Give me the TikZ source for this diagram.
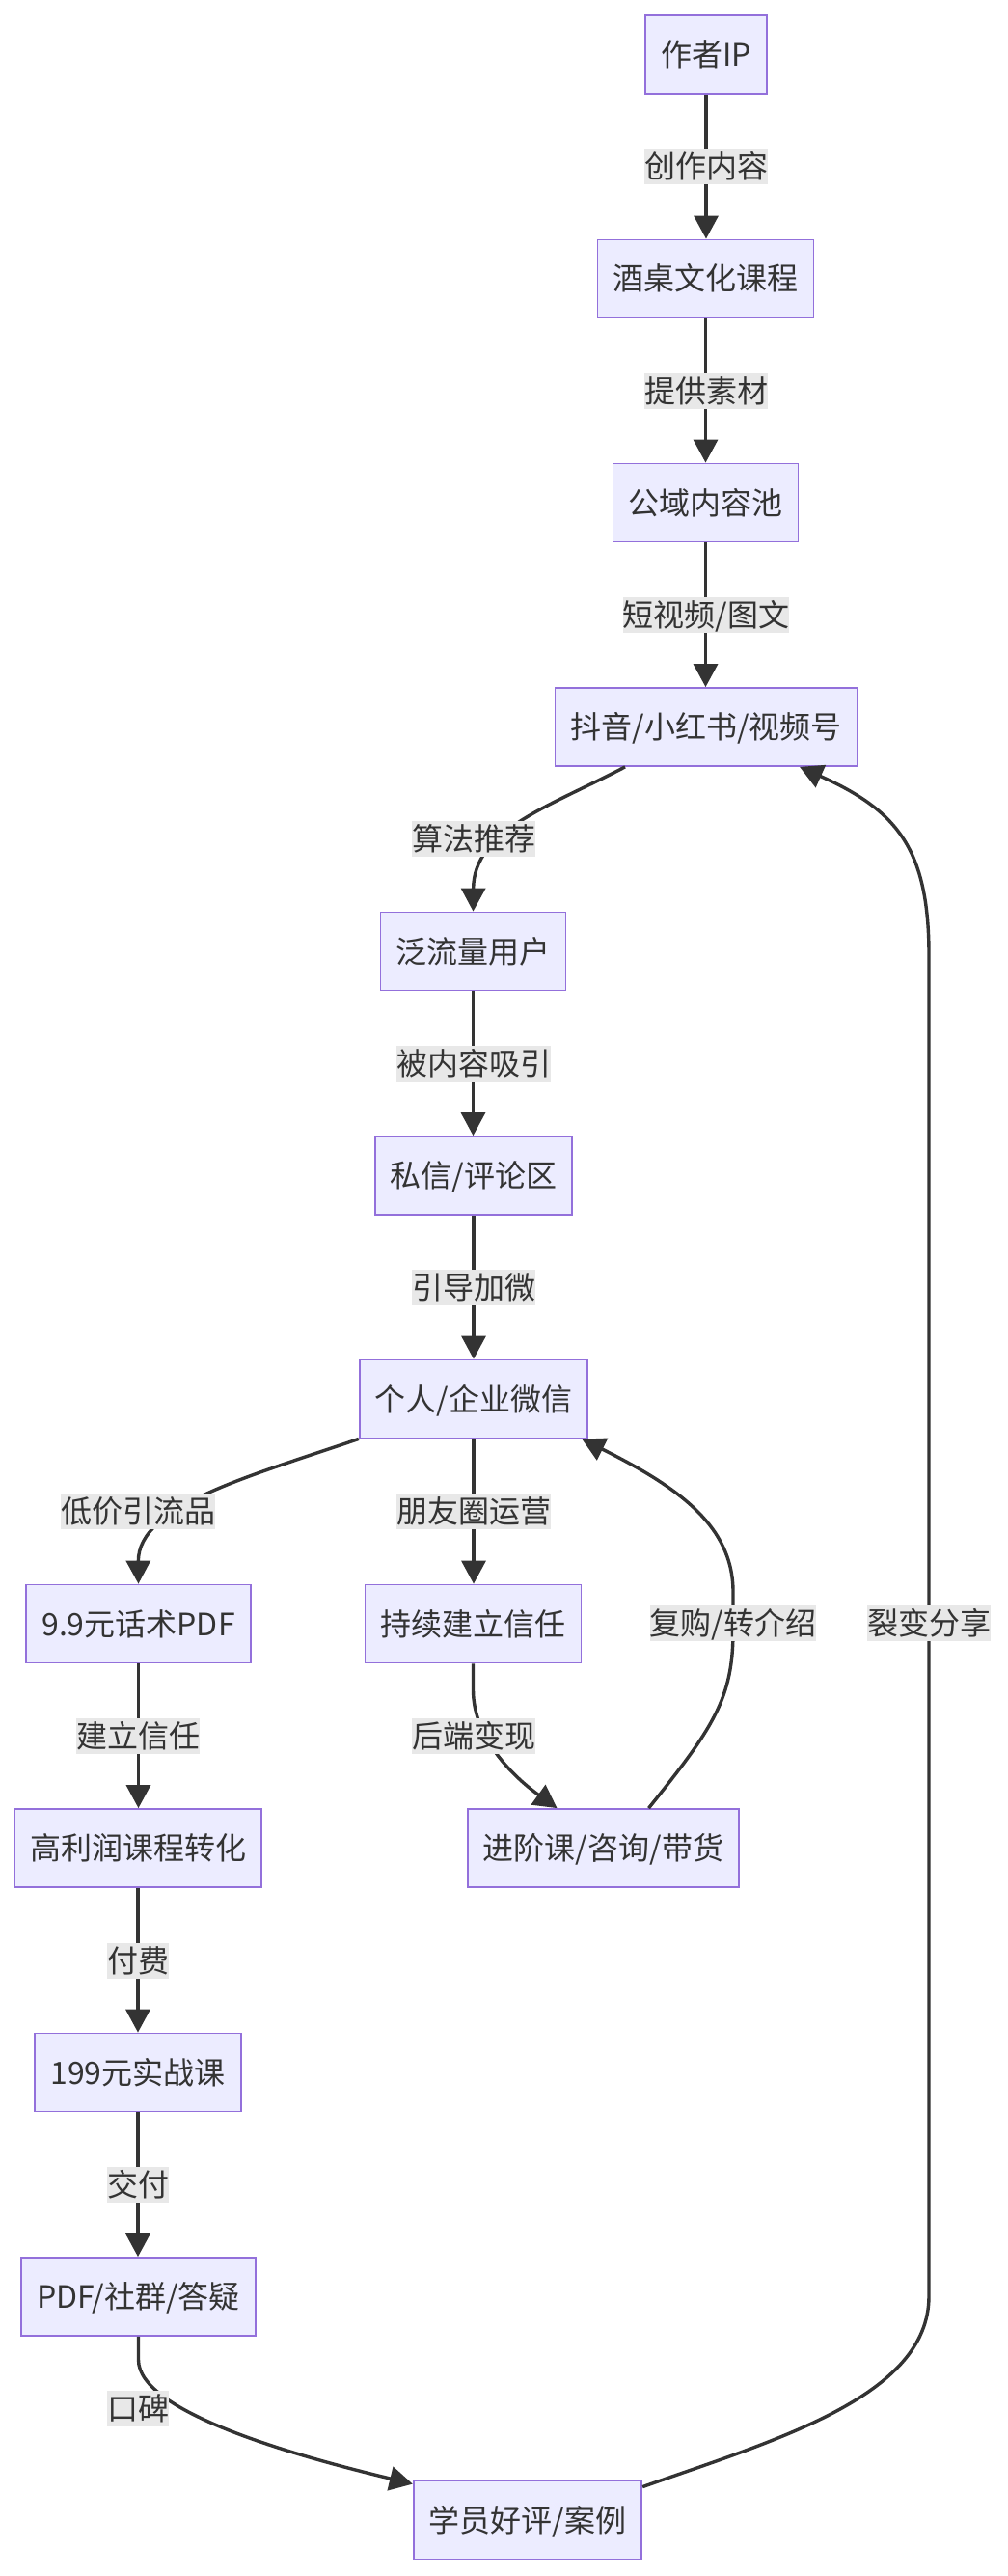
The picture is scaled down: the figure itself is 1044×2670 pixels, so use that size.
\documentclass[tikz,border=0pt]{standalone}
\usepackage{fontspec}
\setmainfont{Noto Sans CJK SC}
\usetikzlibrary{arrows.meta}
\definecolor{nodefill}{HTML}{ECECFF}
\definecolor{nodeline}{HTML}{9370DB}
\definecolor{ink}{HTML}{333333}
\definecolor{labelbg}{HTML}{E8E8E8}
\begin{document}
\begin{tikzpicture}[x=1pt,y=-1pt,
  box/.style={draw=nodeline, fill=nodefill, line width=1.8pt, text=ink,
    font=\fontsize{32}{38}\selectfont, minimum height=81pt,
    inner xsep=16pt, inner ysep=0pt, text height=27pt, text depth=3pt},
  lbl/.style={fill=labelbg, text=ink, font=\fontsize{32}{38}\selectfont,
    inner xsep=0pt, inner ysep=0pt, minimum height=37pt,
    text height=27pt, text depth=3pt},
  flow/.style={draw=ink, line width=3.4pt, -{Triangle[length=24pt,width=25pt]}}
]
\fill[white] (0,0) rectangle (1044,2670);
\useasboundingbox (0,0) rectangle (1044,2670);

% nodes
\node[box] (n1) at (732,56.5) {作者IP};
\node[box] (n2) at (731.5,289) {酒桌文化课程};
\node[box] (n3) at (731.5,521) {公域内容池};
\node[box] (n4) at (732,753.5) {抖音/小红书/视频号};
\node[box] (n5) at (490.5,986) {泛流量用户};
\node[box] (n6) at (491,1218.5) {私信/评论区};
\node[box] (n7) at (491,1450) {个人/企业微信};
\node[box] (n8) at (143.5,1683) {9.9元话术PDF};
\node[box] (n9) at (490.5,1683) {持续建立信任};
\node[box] (n10) at (143,1915.5) {高利润课程转化};
\node[box] (n11) at (625.5,1915.5) {进阶课/咨询/带货};
\node[box] (n12) at (143,2148) {199元实战课};
\node[box] (n13) at (143.5,2380.5) {PDF/社群/答疑};
\node[box] (n14) at (547,2612) {学员好评/案例};

% connectors
\draw[flow] (n1.south) -- (n1.south |- n2.north);
\draw[flow] (n2.south) -- (n2.south |- n3.north);
\draw[flow] (n3.south) -- (n3.south |- n4.north);
\draw[flow] ([xshift=-84pt]n4.south) .. controls (570,836) and (491,860) .. (n5.north);
\draw[flow] (n5.south) -- (n5.south |- n6.north);
\draw[flow] (n6.south) -- (n6.south |- n7.north);
\draw[flow] (n7.south west) .. controls (260,1530) and (143,1560) .. (n8.north);
\draw[flow] (n7.south) -- (n7.south |- n9.north);
\draw[flow] (n8.south) -- (n8.south |- n10.north);
\draw[flow] (n9.south) -- ++(0,27) .. controls (490.5,1800) and (530,1840) .. ([xshift=-48pt]n11.north);
\draw[flow] ([xshift=47pt]n11.north) .. controls (740,1790) and (760,1760) .. (760,1690)
  -- (760,1650) .. controls (760,1580) and (700,1540) .. ([xshift=-7pt]n7.south east);
\draw[flow] (n10.south) -- (n10.south |- n12.north);
\draw[flow] (n12.south) -- (n12.south |- n13.north);
\draw[flow] (n13.south) -- ++(0,24) .. controls (143.5,2500) and (305,2545) .. ([yshift=-4pt]n14.north west);
\draw[flow] ([yshift=-7pt]n14.north east) .. controls (800,2530) and (963,2485) .. (963,2380)
  -- (963,990) .. controls (963,880) and (930,840) .. ([xshift=97pt]n4.south);

% edge labels
\node[lbl] (l1) at (732,172.5) {创作内容};
\node[lbl] (l2) at (732,405) {提供素材};
\node[lbl] (l3) at (732,637) {短视频/图文};
\node[lbl] (l4) at (491,869) {算法推荐};
\node[lbl] (l5) at (491,1102) {被内容吸引};
\node[lbl] (l6) at (491,1334) {引导加微};
\node[lbl] (l7) at (143,1566.5) {低价引流品};
\node[lbl] (l8) at (491,1566.5) {朋友圈运营};
\node[lbl] (l9) at (760,1682) {复购/转介绍};
\node[lbl] (l10) at (963,1682) {裂变分享};
\node[lbl] (l11) at (143,1799) {建立信任};
\node[lbl] (l12) at (491,1799) {后端变现};
\node[lbl] (l13) at (143,2032) {付费};
\node[lbl] (l14) at (143,2264) {交付};
\node[lbl] (l15) at (143,2496) {口碑};
\end{tikzpicture}
\end{document}
